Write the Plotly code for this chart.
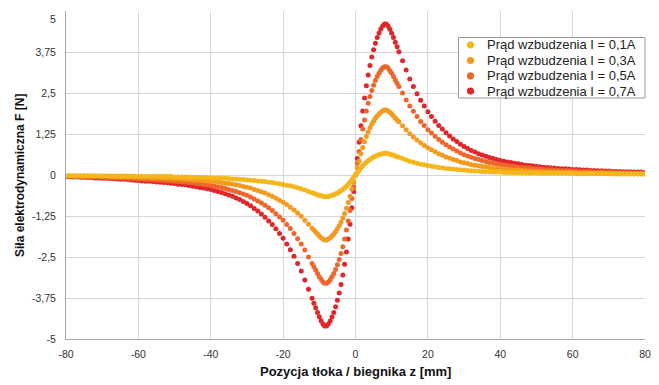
import plotly.graph_objects as go

# Position of plunger z [mm]
Z_MM = [-80, -79, -78, -77, -76, -75, -74, -73, -72, -71,
        -70, -69, -68, -67, -66, -65, -64, -63, -62, -61,
        -60, -59, -58, -57, -56, -55, -54, -53, -52, -51,
        -50, -49, -48, -47, -46, -45, -44, -43, -42, -41,
        -40, -39, -38, -37, -36, -35, -34, -33, -32, -31,
        -30, -29, -28, -27, -26, -25, -24, -23, -22, -21,
        -20, -19, -18, -17, -16, -15, -14, -13,
        -12, -11.5, -11, -10.5, -10, -9.5, -9, -8.5, -8, -7.5, -7, -6.5,
        -6, -5.5, -5, -4.5, -4, -3.5, -3, -2.5, -2, -1.5, -1, -0.5, 0,
        0.5, 1, 1.5, 2, 2.5, 3, 3.5, 4, 4.5, 5, 5.5, 6,
        6.5, 7, 7.5, 8, 8.5, 9, 9.5, 10, 10.5, 11, 11.5, 12,
        13, 14, 15, 16, 17, 18, 19, 20, 21, 22,
        23, 24, 25, 26, 27, 28, 29, 30, 31, 32,
        33, 34, 35, 36, 37, 38, 39, 40, 41, 42,
        43, 44, 45, 46, 47, 48, 49, 50, 51, 52,
        53, 54, 55, 56, 57, 58, 59, 60, 61, 62,
        63, 64, 65, 66, 67, 68, 69, 70, 71, 72,
        73, 74, 75, 76, 77, 78, 79, 80]

F_I01 = [-0.02, -0.02, -0.02, -0.02, -0.02, -0.02, -0.02, -0.02, -0.02, -0.02,
         -0.03, -0.03, -0.03, -0.03, -0.03, -0.03, -0.03, -0.03, -0.03, -0.03,
         -0.04, -0.04, -0.04, -0.04, -0.04, -0.04, -0.04, -0.04, -0.04, -0.04,
         -0.06, -0.06, -0.06, -0.06, -0.07, -0.07, -0.07, -0.08,
         -0.08, -0.08, -0.09, -0.09, -0.09, -0.1, -0.1, -0.11, -0.12, -0.12,
         -0.13, -0.14, -0.15, -0.16, -0.17, -0.18, -0.19, -0.2, -0.22, -0.23,
         -0.25, -0.27, -0.29, -0.31, -0.33, -0.36, -0.39, -0.42, -0.46, -0.5,
         -0.54, -0.56, -0.58, -0.6, -0.62, -0.63, -0.65, -0.66, -0.66, -0.65, -0.64, -0.62,
         -0.6, -0.57, -0.55, -0.51, -0.48, -0.44, -0.39, -0.34, -0.28, -0.21, -0.14, -0.07, 0.0,
         0.07, 0.14, 0.21, 0.28, 0.34, 0.39, 0.44, 0.48, 0.51, 0.55, 0.57, 0.6,
         0.62, 0.64, 0.65, 0.66, 0.66, 0.65, 0.63, 0.62, 0.6, 0.58, 0.56, 0.54,
         0.5, 0.46, 0.42, 0.39, 0.36, 0.33, 0.31, 0.29, 0.27, 0.25,
         0.23, 0.22, 0.2, 0.19, 0.18, 0.17, 0.16, 0.15, 0.14, 0.13,
         0.12, 0.12, 0.11, 0.1, 0.1, 0.09, 0.09, 0.09, 0.08, 0.08,
         0.08, 0.07, 0.07, 0.07, 0.06, 0.06, 0.06, 0.06,
         0.05, 0.05, 0.05, 0.05, 0.05, 0.05, 0.05, 0.05, 0.05, 0.05,
         0.04, 0.04, 0.04, 0.04, 0.04, 0.04, 0.04, 0.04, 0.04, 0.04,
         0.03, 0.03, 0.03, 0.03, 0.03, 0.03, 0.03, 0.03, 0.03, 0.03]

F_I03 = [-0.02, -0.02, -0.03, -0.03, -0.03, -0.03, -0.03, -0.03, -0.04, -0.04,
         -0.04, -0.04, -0.05, -0.05, -0.05, -0.06, -0.06, -0.06, -0.06, -0.07,
         -0.07, -0.08, -0.08, -0.08, -0.09, -0.09, -0.09, -0.1, -0.1, -0.11,
         -0.11, -0.12, -0.12, -0.13, -0.14, -0.15, -0.15, -0.16, -0.17, -0.18,
         -0.19, -0.2, -0.22, -0.23, -0.25, -0.26, -0.28, -0.3, -0.32, -0.35,
         -0.37, -0.4, -0.44, -0.47, -0.51, -0.55, -0.6, -0.65, -0.71, -0.77,
         -0.83, -0.9, -0.98, -1.07, -1.16, -1.26, -1.38, -1.5,
         -1.62, -1.68, -1.74, -1.8, -1.86, -1.91, -1.95, -1.98, -1.98, -1.95, -1.91, -1.86,
         -1.8, -1.73, -1.64, -1.55, -1.44, -1.31, -1.17, -1.01, -0.84, -0.65, -0.43, -0.22, 0.0,
         0.22, 0.43, 0.65, 0.84, 1.01, 1.17, 1.31, 1.44, 1.55, 1.64, 1.73, 1.8,
         1.86, 1.91, 1.95, 1.98, 1.98, 1.95, 1.91, 1.86, 1.8, 1.74, 1.68, 1.62,
         1.5, 1.38, 1.26, 1.16, 1.07, 0.98, 0.9, 0.83, 0.77, 0.71,
         0.65, 0.6, 0.55, 0.51, 0.47, 0.44, 0.4, 0.37, 0.35, 0.32,
         0.3, 0.28, 0.26, 0.25, 0.23, 0.22, 0.2, 0.19, 0.18, 0.17,
         0.16, 0.15, 0.15, 0.14, 0.13, 0.12, 0.12, 0.11, 0.11, 0.1,
         0.1, 0.09, 0.09, 0.09, 0.08, 0.08, 0.08, 0.07, 0.07, 0.07,
         0.06, 0.06, 0.06, 0.06, 0.06, 0.06, 0.05, 0.05, 0.05, 0.05,
         0.05, 0.04, 0.04, 0.04, 0.04, 0.04, 0.04, 0.03]

F_I05 = [-0.04, -0.04, -0.04, -0.04, -0.05, -0.05, -0.06, -0.06, -0.06, -0.06,
         -0.07, -0.07, -0.08, -0.08, -0.09, -0.09, -0.09, -0.1, -0.11, -0.11,
         -0.12, -0.13, -0.14, -0.14, -0.14, -0.15, -0.16, -0.16, -0.17, -0.18,
         -0.19, -0.2, -0.21, -0.22, -0.23, -0.24, -0.26, -0.27, -0.29, -0.3,
         -0.32, -0.34, -0.36, -0.38, -0.41, -0.44, -0.47, -0.5, -0.54, -0.58,
         -0.62, -0.67, -0.73, -0.79, -0.85, -0.92, -1.0, -1.08, -1.18, -1.28,
         -1.38, -1.51, -1.63, -1.78, -1.94, -2.1, -2.29, -2.5,
         -2.7, -2.8, -2.9, -3.0, -3.1, -3.18, -3.26, -3.3, -3.3, -3.26, -3.19, -3.1,
         -3.0, -2.88, -2.74, -2.58, -2.39, -2.19, -1.95, -1.68, -1.4, -1.08, -0.72, -0.36, 0.0,
         0.36, 0.72, 1.08, 1.4, 1.68, 1.95, 2.19, 2.39, 2.58, 2.74, 2.88, 3.0,
         3.1, 3.19, 3.26, 3.3, 3.3, 3.26, 3.18, 3.1, 3.0, 2.9, 2.8, 2.7,
         2.5, 2.29, 2.1, 1.94, 1.78, 1.63, 1.51, 1.38, 1.28, 1.18,
         1.08, 1.0, 0.92, 0.85, 0.79, 0.73, 0.67, 0.62, 0.58, 0.54,
         0.5, 0.47, 0.44, 0.41, 0.38, 0.36, 0.34, 0.32, 0.3, 0.29,
         0.27, 0.26, 0.24, 0.23, 0.22, 0.21, 0.2, 0.19, 0.18, 0.17,
         0.16, 0.16, 0.15, 0.14, 0.14, 0.14, 0.13, 0.12, 0.12, 0.11,
         0.11, 0.11, 0.1, 0.1, 0.09, 0.09, 0.09, 0.09, 0.08, 0.08,
         0.08, 0.07, 0.07, 0.07, 0.06, 0.06, 0.06, 0.06]

F_I07 = [-0.05, -0.05, -0.06, -0.06, -0.07, -0.07, -0.08, -0.08, -0.09, -0.09,
         -0.1, -0.1, -0.11, -0.11, -0.12, -0.13, -0.13, -0.14, -0.15, -0.16,
         -0.17, -0.18, -0.19, -0.19, -0.2, -0.21, -0.22, -0.23, -0.24, -0.25,
         -0.26, -0.28, -0.29, -0.3, -0.32, -0.34, -0.36, -0.38, -0.4, -0.42,
         -0.44, -0.47, -0.5, -0.53, -0.57, -0.61, -0.65, -0.7, -0.75, -0.81,
         -0.87, -0.94, -1.02, -1.1, -1.19, -1.29, -1.4, -1.51, -1.64, -1.78,
         -1.93, -2.1, -2.28, -2.48, -2.7, -2.93, -3.2, -3.48,
         -3.76, -3.91, -4.05, -4.19, -4.32, -4.44, -4.54, -4.6, -4.6, -4.54, -4.45, -4.33,
         -4.19, -4.02, -3.82, -3.6, -3.34, -3.05, -2.72, -2.35, -1.95, -1.5, -1.0, -0.5, 0.0,
         0.5, 1.0, 1.5, 1.95, 2.35, 2.72, 3.05, 3.34, 3.6, 3.82, 4.02, 4.19,
         4.33, 4.45, 4.54, 4.6, 4.6, 4.54, 4.44, 4.32, 4.19, 4.05, 3.91, 3.76,
         3.48, 3.2, 2.93, 2.7, 2.48, 2.28, 2.1, 1.93, 1.78, 1.64,
         1.51, 1.4, 1.29, 1.19, 1.1, 1.02, 0.94, 0.87, 0.81, 0.75,
         0.7, 0.65, 0.61, 0.57, 0.53, 0.5, 0.47, 0.44, 0.42, 0.4,
         0.38, 0.36, 0.34, 0.32, 0.3, 0.29, 0.28, 0.26, 0.25, 0.24,
         0.23, 0.22, 0.21, 0.2, 0.19, 0.19, 0.18, 0.17, 0.17, 0.16,
         0.15, 0.15, 0.14, 0.14, 0.13, 0.13, 0.12, 0.12, 0.11, 0.11,
         0.11, 0.1, 0.1, 0.1, 0.09, 0.09, 0.09, 0.08]

SERIES_NAMES = ["Prąd wzbudzenia I = 0,1A", "Prąd wzbudzenia I = 0,3A",
                "Prąd wzbudzenia I = 0,5A", "Prąd wzbudzenia I = 0,7A"]
SERIES_VALUES = [F_I01, F_I03, F_I05, F_I07]
COLORS = ["#F5B61C", "#F39A1F", "#F0662A", "#E0262A"]

Y_TICKS = [-5, -3.75, -2.5, -1.25, 0, 1.25, 2.5, 3.75, 5]
Y_TICK_LABELS = ["-5", "-3,75", "-2,5", "-1,25", "0", "1,25", "2,5", "3,75", "5"]
X_TICKS = [-80, -60, -40, -20, 0, 20, 40, 60, 80]

X_TITLE = "Pozycja tłoka / biegnika z [mm]"
Y_TITLE = "Siła elektrodynamiczna F [N]"

for v in SERIES_VALUES:
    assert len(v) == len(Z_MM), (len(v), len(Z_MM))

FONT = "Liberation Sans, Arial, Helvetica, sans-serif"

# The page body adds an 8px offset; the figure is sized to fill the rest.
OFF = 8
W, H = 659 - OFF, 385 - OFF
ML, MR, MT, MB = 66 - OFF, 14, 11 - OFF, 46
PW, PH = W - ML - MR, H - MT - MB


def px(xp):  # page x pixel -> paper coord
    return (xp - OFF - ML) / PW


def py(yp):  # page y pixel -> paper coord
    return (H - MB - (yp - OFF)) / PH


fig = go.Figure()
# strongest current first so weaker ones sit on top
for name, vals, col in reversed(list(zip(SERIES_NAMES, SERIES_VALUES, COLORS))):
    fig.add_trace(go.Scatter(
        x=Z_MM, y=vals, mode="markers", name=name, showlegend=False,
        marker=dict(size=5, color=col, line=dict(width=0)),
    ))

# legend box drawn as shapes + text (compact rows like the original)
shapes = [dict(type="rect", xref="paper", yref="paper",
               x0=px(458.5), x1=px(645), y0=py(98), y1=py(37.5),
               line=dict(color="#9a9a9a", width=1), fillcolor="white", layer="above")]
annotations = []
ROW_Y = [45, 60.5, 75.8, 91]
for name, col, ry in zip(SERIES_NAMES, COLORS, ROW_Y):
    r = 3.6
    shapes.append(dict(type="circle", xref="paper", yref="paper",
                       x0=px(470.5 - r), x1=px(470.5 + r),
                       y0=py(ry + r), y1=py(ry - r),
                       line=dict(width=0), fillcolor=col, layer="above"))
    annotations.append(dict(text=name, xref="paper", yref="paper",
                            x=px(485), y=py(ry), xanchor="left", yanchor="middle",
                            showarrow=False,
                            font=dict(family=FONT, size=13, color="#222222")))

annotations.append(dict(text="<b>" + X_TITLE + "</b>", xref="paper", yref="paper",
                        x=0.5, y=py(371), xanchor="center", yanchor="middle",
                        showarrow=False, font=dict(family=FONT, size=13, color="#111111")))
annotations.append(dict(text="<b>" + Y_TITLE + "</b>", xref="paper", yref="paper",
                        x=px(20), y=py(176), xanchor="center", yanchor="middle",
                        textangle=-90, showarrow=False,
                        font=dict(family=FONT, size=12, color="#111111")))
# top tick label sits just inside the chart edge, as in the original
annotations.append(dict(text=Y_TICK_LABELS[-1], xref="paper", yref="paper",
                        x=px(58), y=py(19), xanchor="right", yanchor="middle",
                        showarrow=False, font=dict(family=FONT, size=10.5, color="#333333")))

y_tick_text = Y_TICK_LABELS[:-1] + [""]

fig.update_layout(
    width=W, height=H,
    margin=dict(l=ML, r=MR, t=MT, b=MB),
    paper_bgcolor="white", plot_bgcolor="white",
    font=dict(family=FONT, size=11, color="#333333"),
    showlegend=False,
    shapes=shapes,
    annotations=annotations,
    xaxis=dict(
        range=[-80, 80], tickvals=X_TICKS, ticktext=[str(t) for t in X_TICKS],
        automargin=False,
        showgrid=True, gridcolor="#d6d6d6", gridwidth=1,
        zeroline=False, showline=True, linecolor="#a8a8a8", linewidth=1,
        ticks="outside", ticklen=5, tickcolor="rgba(0,0,0,0)",
        tickfont=dict(size=10.5, color="#333333"),
    ),
    yaxis=dict(
        range=[-5, 5], tickvals=Y_TICKS, ticktext=y_tick_text,
        automargin=False,
        showgrid=True, gridcolor="#d6d6d6", gridwidth=1,
        zeroline=False, showline=True, linecolor="#a8a8a8", linewidth=1,
        ticks="outside", ticklen=7, tickcolor="rgba(0,0,0,0)",
        tickfont=dict(size=10.5, color="#333333"),
    ),
)

fig.write_html("out.html")
